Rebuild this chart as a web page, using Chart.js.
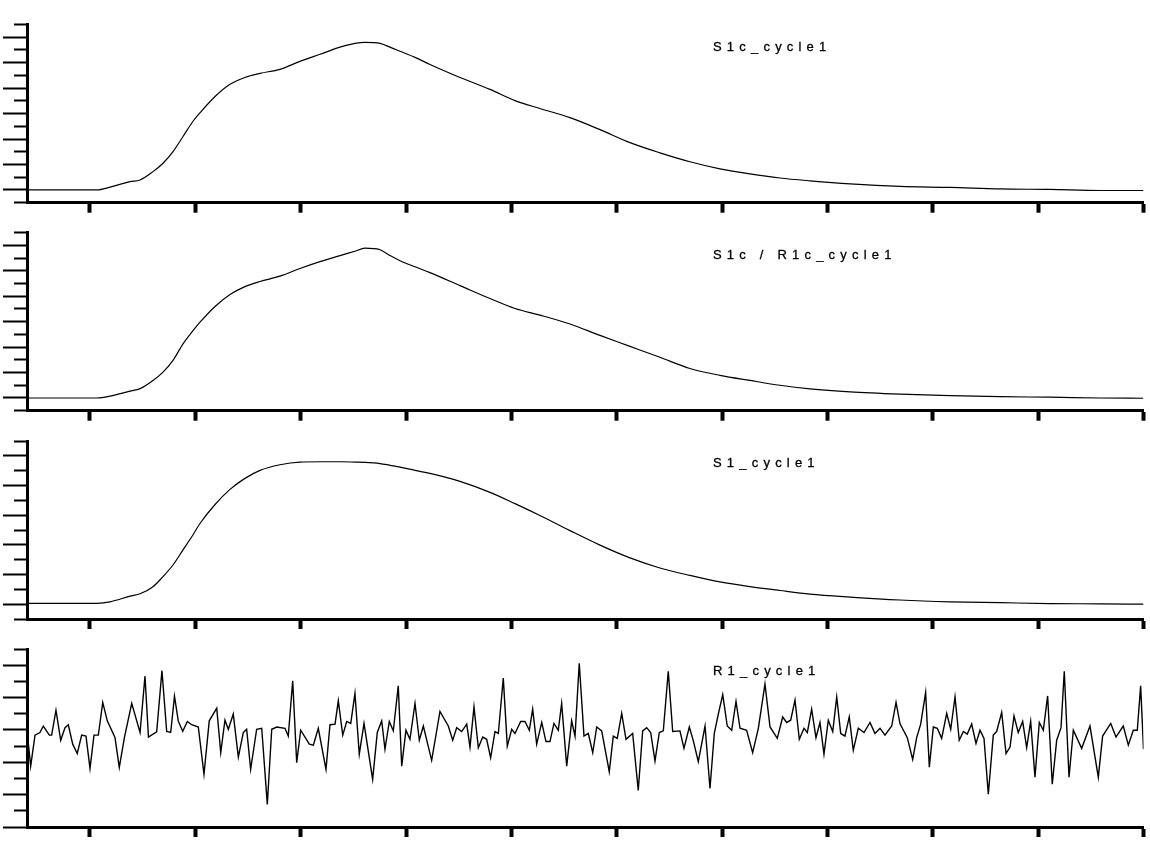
<!DOCTYPE html>
<html>
<head>
<meta charset="utf-8">
<script src="https://cdn.jsdelivr.net/npm/chart.js@4.4.1/dist/chart.umd.min.js"></script>
<style>
    html, body { margin: 0; padding: 0; background: #fff; }
    body { width: 1150px; height: 843px; position: relative; overflow: hidden; }
    .panel { position: absolute; left: 0; width: 1150px; height: 200px; }
    .label {
        position: absolute; left: 713px;
        font-family: "Liberation Sans", Arial, sans-serif;
        font-size: 13px; line-height: 13px; letter-spacing: 5.2px;
        -webkit-text-stroke: 0.3px #000;
        color: #000; white-space: nowrap;
    }
</style>
</head>
<body>
<div class="panel" style="top:14px"><canvas id="chart1"></canvas></div>
<div class="panel" style="top:222px"><canvas id="chart2"></canvas></div>
<div class="panel" style="top:431px"><canvas id="chart3"></canvas></div>
<div class="panel" style="top:639px"><canvas id="chart4"></canvas></div>
<div class="label" style="top:40.2px">S1c_cycle1</div>
<div class="label" style="top:248.2px">S1c / R1c_cycle1</div>
<div class="label" style="top:456.2px">S1_cycle1</div>
<div class="label" style="top:664.2px">R1_cycle1</div>
<script>
// x positions shared by the three smooth traces
const smoothX = [-5.98, 0.66, 1.90, 3.80, 4.75, 5.98, 6.93, 7.88, 8.83, 9.78, 10.44, 11.87, 13.29, 14.71, 16.14,
    18.03, 19.93, 21.83, 23.73, 25.15, 26.10, 27.53, 28.48, 29.43, 30.85, 32.27, 35.12, 37.97, 40.34, 42.71,
    45.56, 48.41, 51.26, 54.10, 56.95, 59.80, 62.65, 65.49, 68.34, 72.14, 76.89, 81.63, 86.38, 91.12, 95.87, 100];

const s1cCycle1 = [0, 0, 0.11, 0.33, 0.39, 0.72, 1.05, 1.51, 2.10, 2.70, 3.03, 3.67, 4.15, 4.42, 4.58,
    4.74, 5.05, 5.33, 5.61, 5.76, 5.80, 5.76, 5.61, 5.45, 5.21, 4.93, 4.42, 3.95, 3.51, 3.20,
    2.84, 2.37, 1.86, 1.46, 1.11, 0.83, 0.63, 0.47, 0.36, 0.24, 0.14, 0.10, 0.04, 0.02, -0.02, -0.02];

const s1cR1cCycle1 = [0, 0, 0.07, 0.27, 0.37, 0.69, 1.02, 1.48, 2.13, 2.65, 2.98, 3.60, 4.07, 4.38, 4.58,
    4.79, 5.09, 5.36, 5.60, 5.77, 5.89, 5.83, 5.60, 5.40, 5.16, 4.93, 4.42, 3.91, 3.52, 3.26,
    2.91, 2.46, 2.03, 1.60, 1.16, 0.89, 0.69, 0.50, 0.36, 0.24, 0.15, 0.09, 0.05, 0.03, 0, -0.01];

const s1Cycle1 = [0.03, 0.03, 0.08, 0.27, 0.35, 0.59, 0.93, 1.32, 1.83, 2.34, 2.72, 3.36, 3.87, 4.24, 4.51,
    4.70, 4.79, 4.80, 4.80, 4.79, 4.78, 4.74, 4.68, 4.62, 4.51, 4.41, 4.14, 3.77, 3.39, 2.99,
    2.48, 1.99, 1.56, 1.22, 0.97, 0.75, 0.59, 0.46, 0.34, 0.24, 0.14, 0.08, 0.05, 0.02, 0.01, 0];

// R1 trace (noise), x and y of each vertex
const r1X = [-5.98, -5.63, -5.22, -4.75, -4.43, -3.86, -3.64, -3.23, -2.78, -2.37, -2.06, -1.64, -1.21, -0.79, -0.38,
    0, 0.38, 0.79, 1.21, 1.64, 2.37, 2.78, 3.27, 3.96, 4.75, 5.22, 5.55, 6.33, 6.83, 7.28,
    7.66, 8.02, 8.38, 8.80, 9.24, 9.65, 10.28, 10.82, 11.32, 12.03, 12.41, 12.81, 13.13, 13.60, 14.08,
    14.55, 14.87, 15.25, 15.82, 16.30, 16.83, 17.25, 17.72, 18.51, 18.82, 19.24, 19.62, 20.00, 20.82, 21.20,
    21.67, 22.40, 22.78, 23.26, 23.57, 23.99, 24.37, 24.75, 25.15, 25.56, 26.01, 26.83, 27.27, 27.69, 28.00,
    28.41, 28.79, 29.26, 29.59, 29.99, 30.37, 30.85, 31.26, 31.64, 32.43, 33.22, 34.01, 34.43, 34.81, 35.28,
    35.76, 36.07, 36.45, 36.86, 37.28, 37.65, 38.03, 38.44, 38.76, 39.23, 39.61, 40.03, 40.34, 40.88, 41.29,
    41.70, 42.02, 42.40, 42.88, 43.28, 43.66, 44.04, 44.45, 44.77, 45.25, 45.72, 46.04, 46.44, 46.89, 47.30,
    47.72, 48.10, 48.57, 49.29, 49.67, 50.05, 50.47, 50.88, 51.51, 52.04, 52.46, 52.84, 53.22, 53.63, 54.04,
    54.42, 54.89, 55.31, 56.00, 56.38, 56.89, 57.27, 57.74, 58.38, 58.85, 59.26, 59.64, 60.06, 60.49, 60.91,
    61.32, 61.70, 62.33, 62.90, 63.44, 64.07, 64.55, 65.24, 65.75, 66.13, 66.51, 66.92, 67.33, 67.77, 68.09,
    68.50, 68.91, 69.29, 69.67, 70.08, 70.50, 70.88, 71.26, 71.66, 72.07, 72.45, 72.93, 73.47, 74.04, 74.51,
    74.99, 75.46, 76.10, 76.51, 76.89, 77.58, 78.09, 78.47, 78.85, 79.32, 79.67, 80.05, 80.43, 80.84, 81.32,
    81.70, 82.11, 82.51, 82.90, 83.27, 83.69, 84.10, 84.48, 84.86, 85.27, 85.74, 86.06, 86.54, 86.95, 87.33,
    87.71, 88.11, 88.53, 88.91, 89.29, 89.70, 90.11, 90.49, 90.90, 91.34, 91.76, 92.17, 92.48, 92.93, 93.34,
    94.13, 94.92, 95.71, 96.12, 96.89, 97.39, 98.08, 98.56, 99.03, 99.41, 99.73, 100];

const r1Cycle1 = [-0.03, -1.12, -0.16, -0.08, 0.12, -0.16, -0.16, 0.61, -0.32, 0.07, 0.16, -0.44, -0.73, -0.16, -0.19,
    -1.19, -0.16, -0.16, 0.85, 0.28, -0.23, -1.16, -0.23, 0.82, -0.08, 1.66, -0.22, -0.06, 1.83, -0.05,
    -0.08, 1.04, 0.27, -0.04, 0.26, 0.16, 0.09, -1.37, 0.28, 0.67, -0.70, 0.30, 0.02, 0.49, -0.84,
    -0.08, 0.02, -1.22, 0.02, 0.05, -2.30, 0.02, 0.09, 0.05, -0.19, 1.52, -1.01, -0.01, -0.44, -0.47,
    0.05, -1.22, 0.16, 0.18, 0.90, -0.16, 0.26, 0.20, 1.13, -0.75, 0.20, -1.53, -0.08, 0.28, -0.60,
    0.26, -0.03, 1.36, -1.12, -0.01, -0.29, 0.82, -0.32, 0.12, -0.94, 0.57, 0.12, -0.32, 0.07, -0.05,
    0.18, -0.53, 0.71, -0.55, -0.22, -0.29, -0.86, -0.05, -0.11, 1.60, -0.50, 0.02, -0.11, 0.26, 0.26,
    -0.01, 0.64, -0.44, 0.23, -0.36, -0.36, 0.20, -0.01, 0.82, -1.12, 0.28, -0.19, 2.06, -0.19, -0.11,
    -0.70, 0.09, -0.03, -1.29, -0.19, -0.26, 0.51, -0.29, -0.11, -1.87, -0.03, 0.07, -0.08, -0.96, -0.08,
    -0.03, 1.81, -0.05, -0.03, -0.57, 0.09, -0.34, -0.98, 0.12, -1.81, -0.11, 0.49, 1.09, 0.12, -0.01,
    0.88, 0.05, -0.01, -0.70, 0.05, 1.42, 0.09, -0.26, 0.40, 0.23, 0.30, 0.92, -0.29, 0.05, -0.08,
    0.64, -0.24, 0.23, -0.75, 0.30, -0.05, 1.02, -0.11, -0.19, 0.40, -0.63, 0.05, -0.08, 0.23, -0.11,
    0.05, -0.16, 0.12, 0.85, 0.19, -0.24, -0.91, -0.24, 0.18, 1.16, -1.15, 0.09, 0.05, -0.26, 0.51,
    0.02, 1.02, -0.32, -0.05, -0.13, 0.18, -0.42, -0.01, -0.26, -1.99, -0.16, -0.05, 0.54, -0.73, -0.53,
    0.43, -0.08, 0.26, -0.55, 0.26, -1.46, 0.23, -0.01, 1.05, -1.68, -0.32, 0.07, 1.81, -1.46, -0.01,
    -0.57, 0.12, -1.46, -0.19, 0.20, -0.22, 0.12, -0.47, -0.01, -0.01, 1.36, -0.60];

const xTicks = [0, 10, 20, 30, 40, 50, 60, 70, 80, 90, 100];
const xMin = -5.98;
const xMax = 100;

document.addEventListener('DOMContentLoaded', function() {
    const panels = [
        { id: 'chart1', xs: smoothX, ys: s1cCycle1, yMin: -0.5, yMax: 6.5, smooth: true, pad: { top: 10.5, bottom: 1.3 } },
        { id: 'chart2', xs: smoothX, ys: s1cR1cCycle1, yMin: -0.5, yMax: 6.5, smooth: true, pad: { top: 10.7, bottom: 1.3 } },
        { id: 'chart3', xs: smoothX, ys: s1Cycle1, yMin: -0.5, yMax: 5.5, smooth: true, pad: { top: 10, bottom: 2 } },
        { id: 'chart4', xs: r1X, ys: r1Cycle1, yMin: -3, yMax: 2.5, smooth: false, pad: { top: 10, bottom: 2 } }
    ];

    const isMajor = v => Math.abs(v - Math.round(v)) < 1e-6;

    panels.forEach(p => {
        const ctx = document.getElementById(p.id).getContext('2d');
        new Chart(ctx, {
            type: 'line',
            data: {
                datasets: [{
                    data: p.xs.map((x, i) => ({ x: x, y: p.ys[i] })),
                    borderColor: '#000',
                    borderWidth: p.smooth ? 1.2 : 1.4,
                    pointRadius: 0,
                    cubicInterpolationMode: p.smooth ? 'monotone' : 'default',
                    tension: p.smooth ? 0.4 : 0,
                    fill: false
                }]
            },
            options: {
                responsive: true,
                maintainAspectRatio: false,
                animation: false,
                events: [],
                layout: { padding: { left: 3, right: 6.5, top: p.pad.top, bottom: p.pad.bottom } },
                plugins: { legend: { display: false }, tooltip: { enabled: false } },
                scales: {
                    x: {
                        type: 'linear',
                        min: xMin,
                        max: xMax,
                        afterBuildTicks: axis => { axis.ticks = xTicks.map(v => ({ value: v })); },
                        ticks: { display: false },
                        grid: { drawOnChartArea: false, tickLength: 10, tickWidth: 4, tickColor: '#000' },
                        border: { color: '#000', width: 3 }
                    },
                    y: {
                        type: 'linear',
                        min: p.yMin,
                        max: p.yMax,
                        ticks: { display: false, stepSize: 0.5 },
                        grid: {
                            drawOnChartArea: false,
                            tickLength: 24,
                            tickWidth: 2,
                            tickColor: '#000',
                            // minor ticks: skip the outer 11px of the tick line
                            tickBorderDash: c => isMajor(c.tick.value) ? [] : [30, 11],
                            tickBorderDashOffset: c => isMajor(c.tick.value) ? 0 : 30
                        },
                        border: { color: '#000', width: 3 }
                    }
                }
            }
        });
    });
});
</script>
</body>
</html>
